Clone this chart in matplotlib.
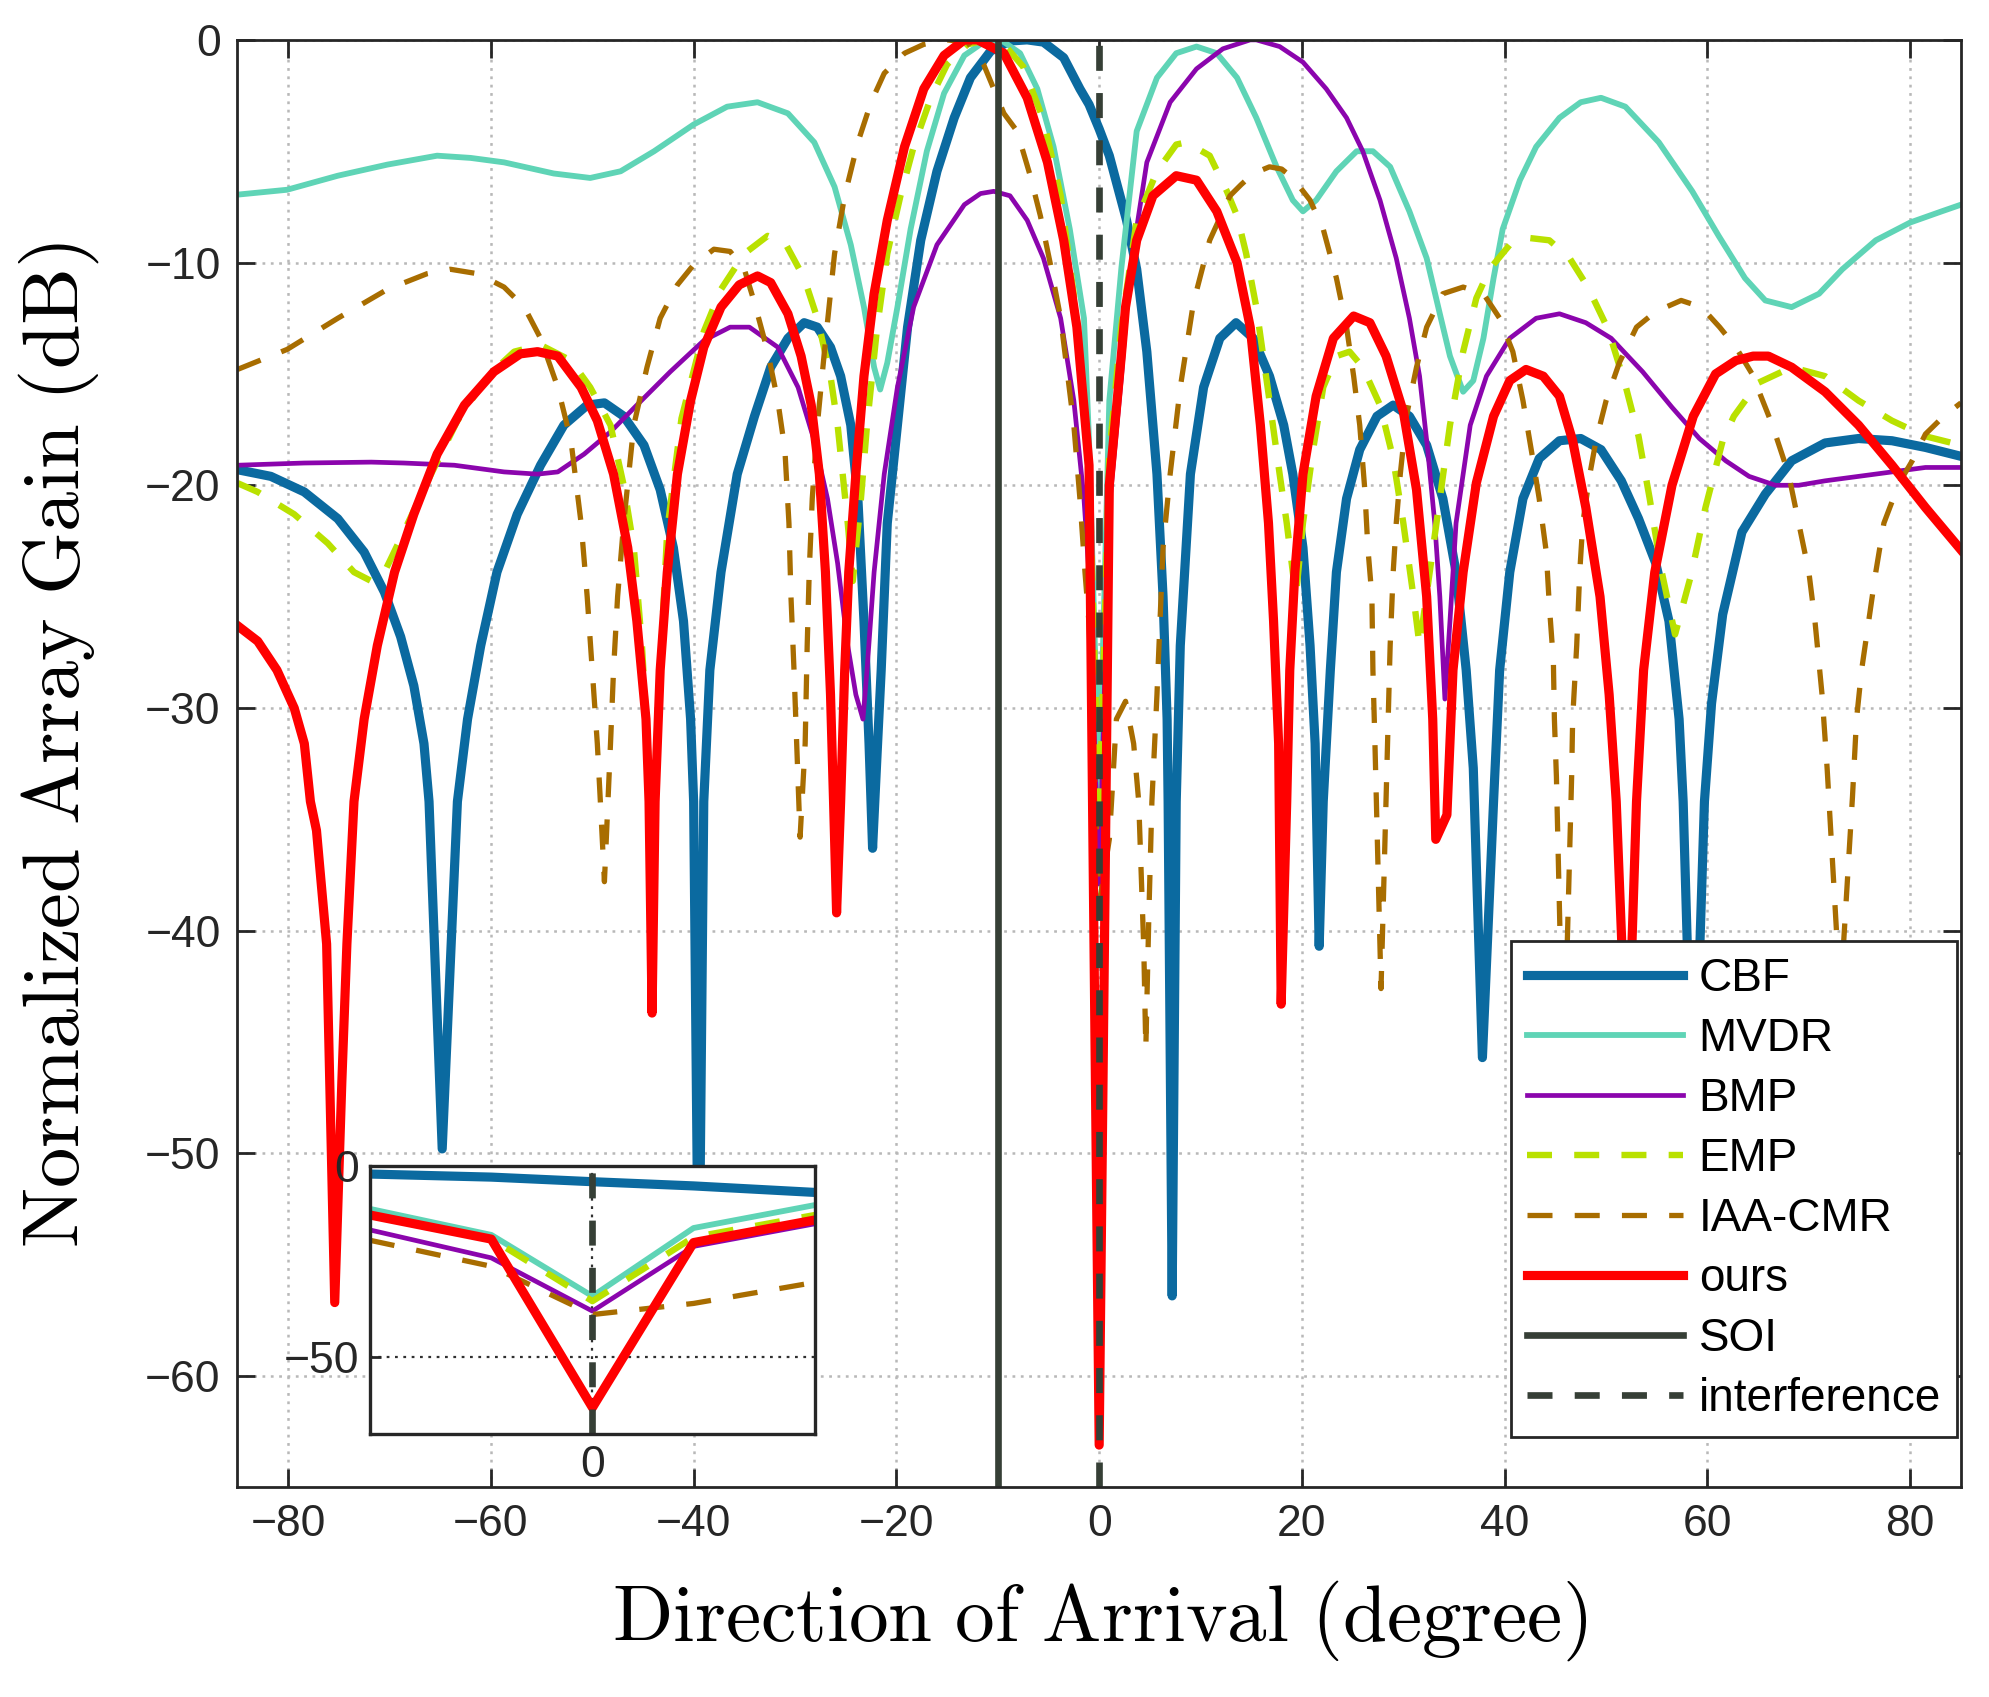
import numpy as np
import matplotlib
matplotlib.use("Agg")
import matplotlib.pyplot as plt

plt.rcParams["font.family"] = ["Liberation Sans", "DejaVu Sans"]
plt.rcParams["mathtext.fontset"] = "cm"
plt.rcParams["lines.scale_dashes"] = False

# ─── DATA ───────────────────────────────────────────────────────────────────

cbf_deg = [-85, -81.7, -78.4, -75.1, -72.5, -70.5, -68.9, -67.6, -66.6, -66.1, -64.8, -63.3,
           -62.3, -61.0, -59.4, -57.4, -55.1, -52.8, -50.5, -48.8, -46.9, -44.9, -43.3, -42.0,
           -41.0, -40.3, -40.0, -39.5, -39.0, -38.4, -37.3, -35.7, -34.0, -32.4, -30.7, -29.1,
           -27.8, -26.5, -25.5, -24.5, -23.8, -23.2, -22.7, -22.35, -21.9, -21.5, -20.9, -19.9,
           -18.9, -17.6, -16.0, -14.3, -12.7, -10.7, -8.8, -7.1, -5.5, -3.5, -1.9, -1, 0, 1,
           2.7, 3.7, 4.7, 5.7, 6.3, 6.7, 6.8, 7.2, 7.6, 8.0, 9.0, 10.3, 11.9, 13.5, 15.2, 16.8,
           18.2, 19.1, 20.1, 20.8, 21.3, 21.7, 22.1, 22.8, 23.4, 24.4, 25.7, 27.4, 29.0, 30.6,
           32.3, 33.9, 35.2, 36.2, 36.9, 37.8, 38.9, 39.5, 40.5, 41.8, 43.4, 45.4, 47.5, 49.5,
           51.5, 53.2, 54.9, 56.2, 57.2, 57.6, 58.6, 59.7, 60.4, 61.5, 63.4, 65.7, 68.3, 71.6,
           74.9, 78.2, 81.5, 85]
cbf_db = [-19.3, -19.6, -20.3, -21.5, -23.0, -24.8, -26.8, -29.0, -31.6, -34.2, -49.8, -34.2,
          -30.5, -27.2, -23.9, -21.3, -19.1, -17.3, -16.4, -16.3, -16.9, -18.2, -20.2, -22.8,
          -26.1, -30.5, -34.2, -58.0, -34.2, -28.3, -23.9, -19.5, -16.9, -14.7, -13.4, -12.7,
          -12.9, -13.8, -15.1, -17.3, -20.6, -26.1, -31.6, -36.3, -32.0, -28.3, -21.7, -17.3,
          -12.9, -9.0, -5.9, -3.5, -1.7, -0.5, -0.05, 0.0, -0.1, -0.8, -2.2, -2.9, -4.0, -5.2,
          -8.1, -10.3, -14.0, -19.5, -25.0, -30.5, -34.2, -56.4, -34.2, -27.2, -19.5, -15.6,
          -13.4, -12.7, -13.4, -15.1, -17.3, -19.5, -22.8, -27.2, -31.6, -40.7, -34.2, -28.3,
          -23.9, -20.6, -18.4, -16.9, -16.4, -16.9, -18.2, -20.6, -23.9, -28.3, -32.7, -45.7,
          -34.2, -28.3, -23.9, -20.6, -18.8, -18.0, -17.9, -18.4, -19.8, -21.5, -23.5, -26.1,
          -30.5, -34.2, -50.0, -34.2, -29.8, -25.8, -22.1, -20.4, -18.9, -18.1, -17.9, -18.0,
          -18.3, -18.7]

mvdr_deg = [-85, -80.1, -75.1, -70.2, -65.3, -62.0, -58.7, -53.8, -50.2, -47.2, -43.9, -40.0,
            -36.7, -33.7, -30.7, -28.1, -26.1, -24.5, -23.2, -22.2, -21.6, -20.9, -19.9, -18.6,
            -17.0, -15.3, -13.3, -11.4, -9.7, -7.8, -6.1, -4.5, -2.9, -1.5, -1, 0, 1, 2.2, 3.7,
            5.7, 7.6, 9.6, 11.6, 13.6, 15.5, 17.5, 19.1, 20.1, 21.4, 23.4, 25.4, 27.0, 28.7,
            30.6, 32.3, 33.6, 34.6, 35.9, 36.9, 37.9, 38.9, 39.8, 41.5, 43.1, 45.4, 47.5, 49.5,
            51.9, 55.2, 58.5, 61.1, 63.7, 65.7, 68.3, 71.0, 73.3, 76.6, 80.0, 83.1, 85]
mvdr_db = [-6.95, -6.73, -6.1, -5.6, -5.2, -5.3, -5.5, -6.0, -6.2, -5.9, -5.0, -3.8,
           -3.0, -2.8, -3.3, -4.6, -6.6, -9.2, -12.0, -14.7, -15.7, -14.5, -12.0, -8.5,
           -5.0, -2.4, -0.7, -0.1, 0.0, -0.6, -2.2, -4.8, -8.5, -12.5, -18.0, -34.0, -16.2,
           -10.2, -4.1, -1.7, -0.6, -0.3, -0.6, -1.7, -3.5, -5.7, -7.2, -7.7, -7.2, -5.9,
           -5.0, -5.0, -5.7, -7.7, -9.8, -12.3, -14.2, -15.8, -15.3, -13.4, -10.7, -8.5,
           -6.3, -4.8, -3.5, -2.8, -2.6, -3.0, -4.6, -6.8, -8.8, -10.7, -11.7, -12.0, -11.4,
           -10.3, -9.0, -8.2, -7.7, -7.4]

bmp_deg = [-85, -78.4, -71.8, -68.6, -63.6, -58.7, -55.4, -53.4, -50.8, -48.2, -45.6, -42.3,
           -39.0, -36.4, -34.5, -31.7, -29.7, -28.1, -26.8, -25.8, -24.8, -24.0, -23.3, -22.9,
           -22.2, -21.2, -19.9, -18.3, -16.0, -13.3, -11.7, -10.4, -8.8, -7.1, -5.5, -3.8,
           -2.5, -1.5, -1, 0, 1, 2.2, 3.0, 4.7, 7.0, 9.6, 12.2, 14.9, 15.5, 17.8, 20.1, 22.4,
           24.4, 26.0, 27.7, 29.3, 30.6, 31.6, 32.4, 33.1, 33.6, 34.1, 34.6, 35.2, 36.6, 38.2,
           40.5, 43.1, 45.4, 48.0, 50.5, 53.6, 56.5, 59.2, 61.8, 64.1, 66.7, 69.0, 71.6, 74.9,
           78.2, 81.5, 85]
bmp_db = [-19.1, -19.0, -18.96, -19.0, -19.1, -19.4, -19.5, -19.4, -18.6, -17.6, -16.4, -14.9,
          -13.5, -12.9, -12.9, -13.8, -15.6, -18.0, -20.6, -23.5, -27.2, -29.4, -30.5, -28.3,
          -23.9, -19.5, -15.6, -12.0, -9.2, -7.4, -6.9, -6.8, -7.0, -8.1, -9.8, -12.5,
          -16.2, -20.6, -24.0, -37.9, -21.0, -15.1, -10.5, -5.5, -2.8, -1.3, -0.4, 0.0, 0.0,
          -0.3, -1.0, -2.2, -3.5, -5.0, -7.2, -9.8, -12.5, -15.1, -18.4, -21.7, -25.0, -29.6,
          -26.1, -21.7, -17.3, -15.1, -13.4, -12.5, -12.3, -12.7, -13.4, -14.9, -16.5, -17.9,
          -18.9, -19.6, -20.0, -20.0, -19.8, -19.6, -19.4, -19.2, -19.2]

emp_deg = [-85, -83, -79.4, -76.1, -73.5, -71.8, -70.5, -68.6, -65.9, -63.3, -60.3, -57.7,
           -55.1, -52.1, -50.2, -48.2, -46.9, -45.9, -45.1, -44.4, -44.0, -43.5, -42.6, -41.2,
           -39.0, -37.3, -35.0, -32.7, -31.0, -29.1, -27.8, -26.5, -25.8, -24.8, -24.3, -23.5,
           -22.9, -21.9, -20.9, -19.6, -18.3, -16.6, -15.0, -13.0, -11.0, -9.4, -7.5, -5.5,
           -3.8, -2.2, -1, 0, 1, 2.2, 3.7, 5.7, 7.6, 8.6, 10.9, 12.6, 13.6, 14.5, 15.5, 16.8,
           17.8, 18.5, 19.4, 20.1, 21.1, 22.1, 23.4, 24.7, 26.0, 27.7, 29.0, 30.0, 31.0, 31.6,
           32.6, 33.6, 34.6, 35.9, 37.2, 38.5, 40.5, 42.5, 44.4, 46.4, 48.2, 50.2, 51.9, 53.2,
           54.3, 55.4, 56.8, 58.4, 59.8, 61.5, 62.6, 65.0, 68.3, 71.6, 74.9, 78.2, 81.5, 85]
emp_db = [-19.9, -20.3, -21.3, -22.6, -23.9, -24.3, -23.9, -22.1, -19.5, -17.1, -15.1, -14.0,
          -13.7, -14.4, -15.6, -17.3, -20.0, -22.8, -27.2, -32.7, -36.0, -30.0, -22.0, -17.0,
          -13.1, -11.2, -9.6, -8.8, -9.1, -10.7, -12.5, -15.1, -17.3, -21.7, -24.3, -20.6,
          -17.3, -12.9, -9.6, -7.0, -4.8, -2.6, -1.1, -0.2, 0.0, -0.2, -1.2, -3.6,
          -7.0, -12.5, -19.0, -35.3, -18.6, -12.8, -8.1, -5.9, -4.7, -4.6, -5.2, -6.8, -7.9,
          -9.6, -12.0, -16.2, -19.5, -21.7, -25.0, -21.7, -18.4, -15.6, -14.2, -14.0, -14.7,
          -16.4, -18.8, -21.7, -25.0, -27.2, -23.9, -20.6, -17.3, -14.0, -11.6, -10.3, -9.2,
          -8.9, -9.0, -9.8, -11.1, -13.0, -15.5, -17.8, -20.6, -23.7, -26.7, -24.0, -21.0,
          -18.0, -16.9, -15.4, -14.7, -15.1, -16.2, -17.1, -17.8, -18.2]

iaa_deg = [-85, -80.1, -75.1, -70.2, -66.3, -64.0, -61.3, -58.7, -56.7, -55.1, -53.4, -52.1,
           -51.1, -50.5, -50.0, -49.5, -49.2, -48.8, -48.2, -47.9, -47.5, -46.9, -45.9, -44.6,
           -43.3, -41.6, -40.0, -38.0, -36.4, -35.0, -34.0, -32.7, -31.7, -31.0, -30.6, -30.4,
           -30.1, -29.8, -29.5, -29.0, -28.8, -28.6, -28.3, -27.8, -27.1, -26.1, -25.1, -23.8,
           -22.5, -21.2, -19.2, -17.3, -15.0, -13.0, -11.4, -10.4, -9.4, -8.1, -6.8, -5.8,
           -4.8, -3.8, -3.2, -2.5, -1.9, -1.4, -1, 0, 1, 1.7, 2.6, 3.4, 3.9, 4.4, 4.6, 4.9,
           5.2, 5.7, 6.0, 6.3, 7.0, 8.0, 9.3, 10.9, 12.9, 14.0, 15.2, 16.8, 18.0, 19.1, 20.8,
           22.1, 23.4, 24.4, 25.1, 25.7, 26.2, 26.5, 26.9, 27.0, 27.2, 27.8, 28.5, 28.7, 29.0,
           29.3, 29.7, 30.3, 31.3, 32.3, 33.9, 35.9, 37.9, 39.5, 40.8, 41.8, 42.8, 43.4, 44.1,
           44.4, 44.8, 44.9, 45.1, 45.8, 46.6, 46.7, 47.1, 47.4, 47.7, 48.4, 49.0, 50.0, 51.3,
           53.0, 54.9, 57.4, 59.4, 61.2, 62.8, 64.4, 66.4, 68.0, 69.0, 70.0, 70.6, 71.3, 71.8,
           73.1, 74.3, 74.7, 75.2, 75.9, 76.6, 77.4, 78.9, 80.2, 81.5, 83.3, 85]
iaa_db = [-14.8, -13.9, -12.5, -11.2, -10.5, -10.3, -10.5, -11.1, -12.0, -13.4, -15.6, -18.0,
          -21.7, -25.0, -28.3, -31.6, -34.2, -37.8, -31.6, -28.3, -25.0, -21.7, -17.3, -14.7,
          -12.5, -11.0, -10.1, -9.4, -9.5, -10.3, -11.8, -14.0, -16.2, -18.4, -21.7, -25.0,
          -28.3, -32.0, -35.8, -31.6, -27.2, -23.9, -20.6, -17.3, -14.0, -9.6, -7.0, -4.6,
          -2.8, -1.5, -0.6, -0.2, 0.0, -0.1, -1.1, -2.2, -3.3, -4.1, -6.1, -7.9,
          -10.1, -12.5, -14.7, -17.3, -20.6, -23.9, -26.2, -38.8, -35.9, -30.5, -29.7, -31.6,
          -34.2, -40.8, -45.3, -39.3, -34.2, -29.4, -26.1, -22.8, -19.5, -15.6, -11.8, -9.0,
          -7.0, -6.5, -6.0, -5.7, -5.8, -6.2, -7.2, -8.5, -10.7, -12.9, -15.1, -17.3, -20.2,
          -22.8, -25.0, -28.3, -31.6, -42.6, -30.5, -27.2, -23.9, -21.7, -19.5, -16.9, -14.7,
          -12.9, -11.4, -11.1, -11.4, -12.5, -14.0, -16.2, -18.9, -20.6, -23.0, -25.4, -27.9,
          -30.5, -33.1, -47.0, -33.1, -30.5, -27.2, -23.9, -21.7, -19.5, -18.0, -16.2, -14.5,
          -12.9, -12.2, -11.7, -12.0, -12.9, -13.8, -15.0, -17.3, -19.5, -21.7, -23.9, -26.1,
          -29.4, -32.7, -43.0, -34.0, -30.5, -28.3, -26.1, -23.9, -21.7, -19.9, -18.9, -17.7,
          -16.9, -16.3]

ours_deg = [-85, -83, -81.1, -79.4, -78.4, -77.8, -77.2, -76.2, -75.4, -74.7, -74.2, -73.5,
            -72.5, -71.2, -69.5, -67.6, -65.3, -62.6, -59.7, -57.1, -55.4, -53.4, -51.1, -49.5,
            -47.9, -46.5, -45.6, -44.7, -44.4, -44.1, -43.8, -43.3, -42.6, -41.6, -40.3, -39.0,
            -37.3, -35.5, -33.7, -32.4, -30.7, -29.4, -28.4, -27.6, -27.0, -26.5, -26.2, -25.9,
            -25.5, -25.1, -24.7, -24.0, -23.2, -22.2, -20.9, -19.2, -17.3, -15.3, -13.3, -12.0,
            -9.4, -7.1, -5.1, -3.5, -2.2, -1, 0, 1, 2.2, 2.6, 3.7, 5.3, 7.6, 9.6, 11.6, 13.6,
            14.9, 15.9, 16.7, 17.2, 17.7, 17.95, 18.5, 18.8, 19.3, 20.1, 21.4, 23.1, 25.1, 26.7,
            28.3, 30.0, 31.3, 32.3, 32.9, 33.2, 34.3, 34.9, 35.9, 37.2, 38.9, 40.5, 42.1, 43.8,
            45.4, 46.7, 48.0, 49.4, 50.3, 51.0, 52.1, 53.0, 53.7, 54.8, 56.5, 58.6, 60.8, 62.8,
            64.5, 66.0, 68.3, 71.6, 74.9, 78.2, 81.5, 85]
ours_db = [-26.3, -27.0, -28.3, -30.0, -31.6, -34.2, -35.5, -40.6, -56.7, -46.8, -40.6, -34.2,
           -30.5, -27.2, -23.9, -21.3, -18.6, -16.4, -14.9, -14.1, -14.0, -14.2, -15.6, -17.1,
           -19.5, -22.8, -26.1, -30.5, -34.2, -43.7, -34.2, -28.3, -23.9, -19.5, -16.2, -13.8,
           -12.0, -11.0, -10.6, -10.9, -12.3, -14.2, -16.4, -19.5, -23.9, -29.4, -34.2, -39.2,
           -34.2, -28.3, -23.9, -19.5, -15.1, -11.4, -8.1, -4.8, -2.2, -0.7, 0.0, 0.0,
           -0.6, -2.6, -5.5, -9.0, -12.9, -19.1, -63.1, -20.0, -14.1, -12.0, -9.0, -7.0, -6.1,
           -6.3, -7.7, -10.0, -12.9, -17.3, -21.7, -26.1, -31.6, -43.3, -34.2, -28.3, -23.9,
           -19.5, -16.0, -13.4, -12.4, -12.7, -14.2, -16.7, -20.2, -25.0, -30.5, -35.9, -34.8,
           -28.3, -23.9, -19.9, -16.9, -15.3, -14.8, -15.1, -16.0, -18.0, -21.0, -25.0, -29.4,
           -34.2, -47.0, -34.2, -28.3, -23.9, -20.0, -16.9, -15.0, -14.4, -14.2, -14.2, -14.7,
           -15.8, -17.3, -19.1, -21.0, -22.9]

# zoomed view around the interference direction (0 deg)
inset_deg = [-2.2, -1, 0, 1, 2.2]
inset_cbf = [-2.1, -2.9, -4.1, -5.2, -6.9]
inset_mvdr = [-11.2, -18.0, -34.0, -16.2, -10.2]
inset_bmp = [-16.7, -24.0, -37.9, -21.0, -15.1]
inset_emp = [-12.6, -19.0, -35.3, -18.6, -12.8]
inset_iaa = [-19.4, -26.2, -38.8, -35.9, -30.4]
inset_ours = [-12.8, -19.1, -63.1, -20.0, -14.1]

SOI_DEG = -10
INTERF_DEG = 0

labels = ["CBF", "MVDR", "BMP", "EMP", "IAA-CMR", "ours"]
colors = ["#0b6aa0", "#5fd4b6", "#8b05ad", "#b9e100", "#a86d00", "#ff0000"]
widths = [3.3, 2.1, 1.7, 2.3, 1.9, 3.3]
DASH = (0, (9, 8))
styles = ["-", "-", "-", DASH, DASH, "-"]
LINE_DARK = "#363f36"

main_series = [(cbf_deg, cbf_db), (mvdr_deg, mvdr_db), (bmp_deg, bmp_db),
               (emp_deg, emp_db), (iaa_deg, iaa_db), (ours_deg, ours_db)]
inset_series = [inset_cbf, inset_mvdr, inset_bmp, inset_emp, inset_iaa, inset_ours]

# ─── FIGURE ─────────────────────────────────────────────────────────────────

fig = plt.figure(figsize=(9.95, 8.485), dpi=200)
ax = fig.add_axes([0.1193, 0.1235, 0.8661, 0.853])

for (x, y), lab, c, lw, ls in zip(main_series, labels, colors, widths, styles):
    ax.plot(x, y, color=c, lw=lw, ls=ls, label=lab, solid_joinstyle="round")
ax.axvline(SOI_DEG, color=LINE_DARK, lw=2.4, ls="-", label="SOI")
ax.axvline(INTERF_DEG, color=LINE_DARK, lw=2.4, ls=DASH, label="interference")

ax.set_xlim(-85, 85)
ax.set_ylim(-65, 0)
ax.set_xticks(np.arange(-80, 81, 20))
ax.set_yticks(np.arange(-60, 1, 10))
ax.grid(True, color="#b8b8b8", ls=(0, (1, 2)), lw=0.9)
ax.tick_params(direction="in", top=True, right=True, length=6.5, width=1,
               labelsize=16, pad=6, colors="#262626")
for s in ax.spines.values():
    s.set_color("#262626")
    s.set_linewidth(1.0)

ax.set_xlabel(r"$\mathrm{Direction\ of\ Arrival\ (degree)}$", fontsize=28.5)
ax.set_ylabel(r"$\mathrm{Normalized\ Array\ Gain\ (dB)}$", fontsize=29)
ax.xaxis.set_label_coords(0.5, -0.063)
ax.yaxis.set_label_coords(-0.079, 0.513)

leg = ax.legend(loc="lower right", bbox_to_anchor=(0.9977, 0.0349), fontsize=16.5,
                handlelength=3.4, handletextpad=0.35, labelspacing=0.35, borderpad=0.35,
                borderaxespad=0.0, fancybox=False, framealpha=1)
leg.get_frame().set_edgecolor("#262626")
leg.get_frame().set_linewidth(1.0)

# ─── INSET ──────────────────────────────────────────────────────────────────

axi = fig.add_axes([0.1859, 0.155, 0.2236, 0.1579])
for y, c, lw, ls in zip(inset_series, colors, widths, styles):
    axi.plot(inset_deg, y, color=c, lw=lw, ls=ls)
axi.axvline(INTERF_DEG, color=LINE_DARK, lw=2.4, ls=DASH)
axi.set_xlim(-2.2, 2.2)
axi.set_ylim(-70, 0)
axi.set_xticks([0])
axi.set_yticks([-50, 0])
axi.grid(True, color="#303030", ls=(0, (1, 2)), lw=0.8)
axi.tick_params(direction="in", length=4, width=1, labelsize=16, pad=4, colors="#262626")
for s in axi.spines.values():
    s.set_color("#262626")
    s.set_linewidth(1.2)

fig.savefig("out.png", dpi=200)
